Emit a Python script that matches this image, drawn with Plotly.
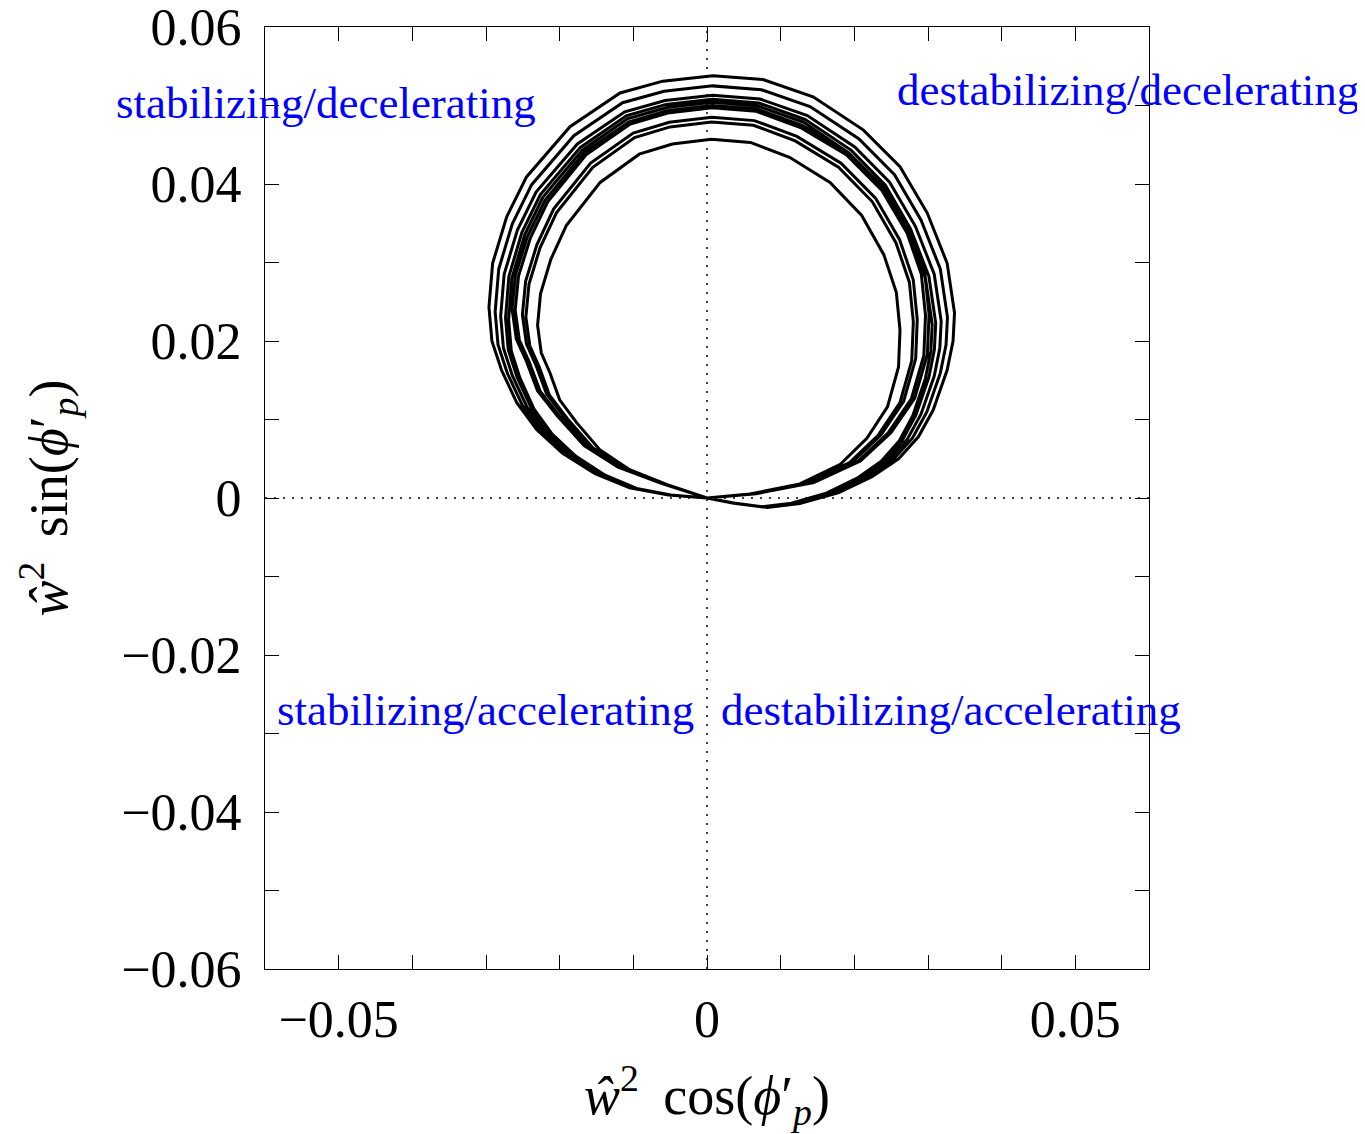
import plotly.graph_objects as go

# Outermost loop (data units), from origin back to origin
outer_x = [0.0, 0.0040, 0.0082, 0.0126, 0.0179, 0.0224, 0.0260, 0.0287, 0.0307, 0.0326,
           0.0334, 0.0336, 0.0326, 0.0299, 0.0262, 0.0212, 0.0144, 0.0076, 0.0008, -0.0060,
           -0.0118, -0.0186, -0.0245, -0.0272, -0.0291, -0.0296, -0.0292, -0.0279, -0.0258,
           -0.0231, -0.0196, -0.0152, -0.0105, -0.0054, 0.0]
outer_y = [0.0, -0.0007, -0.0012, -0.0007, 0.0007, 0.0027, 0.0050, 0.0078, 0.0112, 0.0163,
           0.0200, 0.0236, 0.0299, 0.0363, 0.0422, 0.0469, 0.0511, 0.0533, 0.0538, 0.0531,
           0.0516, 0.0473, 0.0409, 0.0358, 0.0299, 0.0243, 0.0200, 0.0163, 0.0121,
           0.0087, 0.0057, 0.0031, 0.0013, 0.0004, 0.0]

# Innermost loop (data units)
inner_x = [0.0, 0.0058, 0.0126, 0.0181, 0.0217, 0.0245, 0.0260, 0.0262, 0.0257, 0.0240,
           0.0210, 0.0167, 0.0112, 0.0059, 0.0006, -0.0047, -0.0092, -0.0145, -0.0191, -0.0212,
           -0.0226, -0.0230, -0.0225, -0.0213, -0.0200, -0.0177, -0.0145, -0.0105, -0.0054, 0.0]
inner_y = [0.0, 0.0005, 0.0018, 0.0043, 0.0076, 0.0116, 0.0167, 0.0214, 0.0262, 0.0310,
           0.0360, 0.0402, 0.0434, 0.0453, 0.0457, 0.0451, 0.0438, 0.0402, 0.0347, 0.0304,
           0.0260, 0.0220, 0.0185, 0.0159, 0.0125, 0.0096, 0.0061, 0.0036, 0.0017, 0.0]

loop_top = [0.0538, 0.0525, 0.0513, 0.0508, 0.0504, 0.0500, 0.0497, 0.0485, 0.0479, 0.0457]
loop_left = [-0.0296, -0.0288, -0.0281, -0.0274, -0.0270, -0.0266, -0.0262, -0.0251, -0.0247, -0.0230]
loop_right = [0.0336, 0.0326, 0.0317, 0.0310, 0.0305, 0.0300, 0.0295, 0.0285, 0.0279, 0.0262]
loop_shape = ["outer", "outer", "outer", "outer", "outer", "inner", "inner", "inner", "inner", "inner"]

x_tick_vals = [-0.05, -0.04, -0.03, -0.02, -0.01, 0.0, 0.01, 0.02, 0.03, 0.04, 0.05]
x_tick_text = ["\u22120.05", "", "", "", "", "0", "", "", "", "", "0.05"]
y_tick_vals = [-0.06, -0.05, -0.04, -0.03, -0.02, -0.01, 0.0, 0.01, 0.02, 0.03, 0.04, 0.05, 0.06]
y_tick_text = ["\u22120.06", "", "\u22120.04", "", "\u22120.02", "", "0", "", "0.02", "", "0.04", "", "0.06"]

quad_text = ["stabilizing/decelerating", "destabilizing/decelerating",
             "stabilizing/accelerating", "destabilizing/accelerating"]
quad_x_paper = [-0.1708, 0.7127, 0.0113, 0.5136]
quad_y = [0.0503, 0.0520, -0.0270, -0.0270]

shapes = {"outer": (outer_x, outer_y), "inner": (inner_x, inner_y)}
traj_x, traj_y = [], []
for top, left, right, name in zip(loop_top, loop_left, loop_right, loop_shape):
    bx, by = shapes[name]
    sx = (right - left) / (max(bx) - min(bx))
    sy = top / max(by)
    traj_x += [v * sx for v in bx]
    traj_y += [v * sy for v in by]

fig = go.Figure()
fig.add_trace(go.Scatter(x=traj_x, y=traj_y, mode="lines",
                         line=dict(color="black", width=3), showlegend=False,
                         hoverinfo="skip"))

# dotted reference lines
fig.add_shape(type="line", x0=0, x1=0, y0=-0.06, y1=0.06, xref="x", yref="y",
              line=dict(color="black", width=1.5, dash="2px,7px"), layer="below")
fig.add_shape(type="line", x0=-0.06, x1=0.06, y0=0, y1=0, xref="x", yref="y",
              line=dict(color="black", width=1.5, dash="2px,7px"), layer="below")

for t, xx, yy in zip(quad_text, quad_x_paper, quad_y):
    fig.add_annotation(x=xx, y=yy, xref="paper", yref="y", text=t, showarrow=False,
                       xanchor="left", yanchor="middle",
                       font=dict(family="Liberation Serif", size=45, color="#0000FF"))

fig.add_annotation(x=0.5, y=-0.134, xref="paper", yref="paper",
                   text="<i>\u0175</i><sup>2</sup>\u2009 cos(<i>\u03d5</i>\u2032<sub><i>p</i></sub>)",
                   showarrow=False, xanchor="center", yanchor="middle",
                   font=dict(family="Liberation Serif", size=54, color="black"))
fig.add_annotation(x=-0.245, y=0.5, xref="paper", yref="paper", textangle=-90,
                   text="<i>\u0175</i><sup>2</sup>\u2009 sin(<i>\u03d5</i>\u2032<sub><i>p</i></sub>)",
                   showarrow=False, xanchor="center", yanchor="middle",
                   font=dict(family="Liberation Serif", size=54, color="black"))

axis_common = dict(showgrid=False, zeroline=False, showline=True, linecolor="black",
                   linewidth=1.2, mirror="ticks", ticks="inside", ticklen=14,
                   tickwidth=1, tickcolor="black", ticklabeloverflow="allow",
                   automargin=False,
                   tickfont=dict(family="Liberation Serif", size=52, color="black"))
fig.update_xaxes(tickmode="array", tickvals=x_tick_vals, ticktext=x_tick_text,
                 range=[-0.06, 0.06], ticklabelstandoff=4, **axis_common)
fig.update_yaxes(tickmode="array", tickvals=y_tick_vals, ticktext=y_tick_text,
                 range=[-0.0600001, 0.0600001], ticklabelstandoff=12, **axis_common)

fig.update_layout(width=1357, height=1126, autosize=False,
                  margin=dict(l=257, r=216, t=19, b=165, autoexpand=False),
                  plot_bgcolor="white", paper_bgcolor="white")

fig.write_html("out.html")
